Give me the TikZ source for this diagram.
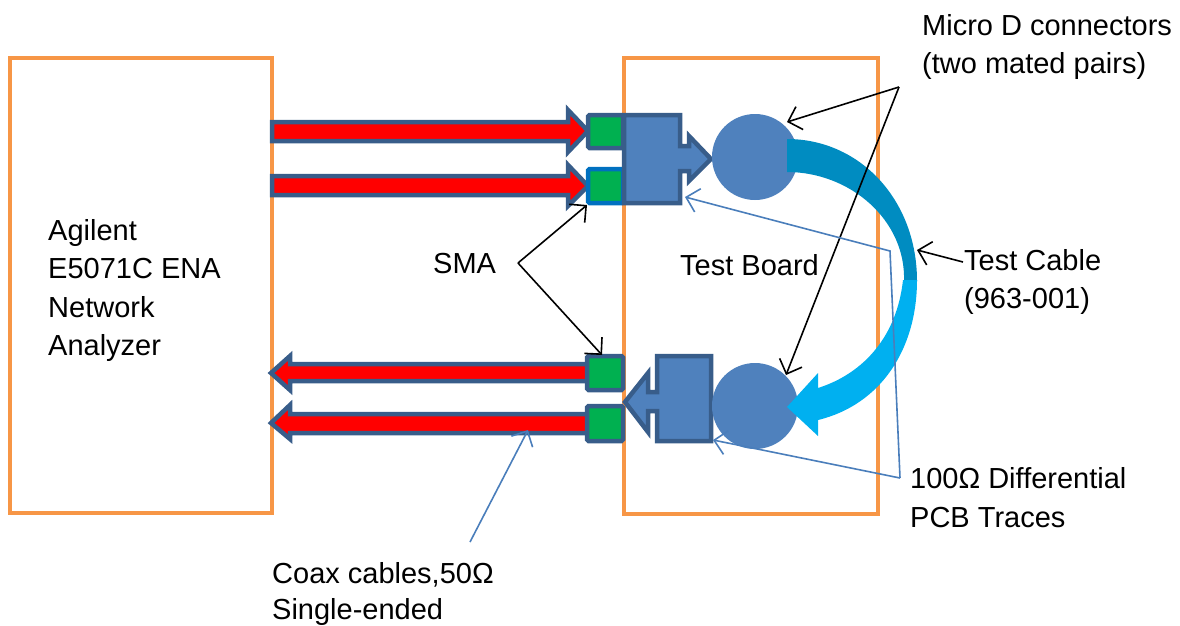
\documentclass[tikz,border=0pt]{standalone}
\usepackage{fontspec}
\setmainfont{Liberation Sans}
\usetikzlibrary{arrows.meta}
\definecolor{orng}{HTML}{F79646}
\definecolor{dblue}{HTML}{385D8A}
\definecolor{mblue}{HTML}{4F81BD}
\definecolor{bblue}{HTML}{0070C0}
\definecolor{lblue}{HTML}{4A7EBB}
\definecolor{grn}{HTML}{00B050}
\definecolor{cabdark}{HTML}{008CC1}
\definecolor{cablight}{HTML}{00B0F0}
\tikzset{
  box/.style={draw=orng, line width=4.5pt},
  coax/.style={fill=red, draw=dblue, line width=4.5pt, line join=miter},
  sma/.style={fill=grn, draw=dblue, line width=4.5pt, rounded corners=1.5pt},
  conn/.style={fill=mblue, draw=dblue, line width=4.5pt, line join=miter},
  plug/.style={fill=mblue, draw=none},
  callout/.style={draw=black, line width=1.6pt, -{Straight Barb[length=12pt,width=24pt,line width=1.6pt]}},
  bcallout/.style={draw=lblue, line width=1.6pt, -{Straight Barb[length=12pt,width=24pt,line width=1.6pt]}},
  lbl/.style={anchor=base west, inner sep=0pt, font=\fontsize{29}{35}\selectfont}
}
\begin{document}
\begin{tikzpicture}[x=1pt,y=-1pt]
\useasboundingbox (0,0) rectangle (1180,625);
% orange boxes
\draw[box] (10,58) rectangle (272,513);
\draw[box] (624,58) rectangle (878,514);
% red coax arrows (right)
\draw[coax] (272,122) -- (568,122) -- (568,110) -- (588,131) -- (568,152) -- (568,141) -- (272,141) -- cycle;
\draw[coax] (272,176) -- (568,176) -- (568,165) -- (588,186) -- (568,206) -- (568,195) -- (272,195) -- cycle;
% red coax arrows (left)
\draw[coax] (590,364) -- (290,364) -- (290,356) -- (271,373) -- (290,390) -- (290,381) -- (590,381) -- cycle;
\draw[coax] (590,414) -- (290,414) -- (290,405) -- (271,423) -- (290,439) -- (290,433) -- (590,433) -- cycle;
% SMA squares
\draw[sma] (588,115) rectangle (623,148);
\draw[sma, draw=bblue] (588,169) rectangle (623,203);
\draw[sma] (587,356) rectangle (623,390);
\draw[sma] (587,406) rectangle (623,441);
% connector shapes
\draw[conn] (624,115) -- (680,115) -- (680,146) -- (689,146) -- (689,136) -- (711,159) -- (689,181) -- (689,171) -- (680,171) -- (680,203) -- (624,203) -- cycle;
\draw[conn] (657,356) -- (711,356) -- (711,441) -- (657,441) -- (657,411) -- (648,411) -- (648,432) -- (625,402) -- (648,373) -- (648,392) -- (657,392) -- cycle;
% Micro D plugs
\fill[plug] (755,157) circle (43);
\fill[plug] (755,406) circle (43);
% test cable
\fill[cabdark] (787,139) .. controls (860,139) and (917,200) .. (917,281)
  -- (904,281) .. controls (906,220) and (850,172) .. (787,172) -- cycle;
\fill[cablight] (917,280) .. controls (917,350) and (880,405) .. (818,420)
  -- (818,436) -- (787,407) -- (818,373) -- (818,388)
  .. controls (865,373) and (897,335) .. (903,280) -- cycle;
% coordinates for callouts
\coordinate (microJ) at (899,87);
\coordinate (microT) at (787,122);
\coordinate (microB) at (786,375);
\coordinate (smaJ) at (518,263);
\coordinate (smaT) at (587,205);
\coordinate (smaB) at (602,355);
\coordinate (cabS) at (963,262);
\coordinate (cabE) at (917,250);
\coordinate (pcbJ) at (900,478);
\coordinate (pcbK) at (890,251);
\coordinate (pcbT) at (685,197);
\coordinate (pcbB) at (713,440);
\coordinate (coaxS) at (470,542);
\coordinate (coaxE) at (528,430);
% callouts
\draw[callout] (microJ) -- (microT);
\draw[callout] (microJ) -- (microB);
\draw[callout] (smaJ) -- (smaT);
\draw[callout] (smaJ) -- (smaB);
\draw[callout] (cabS) -- (cabE);
\draw[bcallout] (pcbJ) -- (pcbK) -- (pcbT);
\draw[bcallout] (pcbJ) -- (pcbB);
\draw[bcallout] (coaxS) -- (coaxE);
% labels
\node[lbl] (ag1) at (48,240) {Agilent};
\node[lbl] (ag2) at (48,278) {E5071C ENA};
\node[lbl] (ag3) at (48,317) {Network};
\node[lbl] (ag4) at (48,355) {Analyzer};
\node[lbl] (smal) at (433,273) {SMA};
\node[lbl] (tb) at (680,275) {Test Board};
\node[lbl] (md1) at (922,35) {Micro D connectors};
\node[lbl] (md2) at (922,73) {(two mated pairs)};
\node[lbl] (tc1) at (964,270) {Test Cable};
\node[lbl] (tc2) at (964,308) {(963-001)};
\node[lbl] (pc1) at (910,488) {100Ω Differential};
\node[lbl] (pc2) at (910,527) {PCB Traces};
\node[lbl] (cx1) at (272,583) {Coax cables,50Ω};
\node[lbl] (cx2) at (272,619) {Single-ended};
\end{tikzpicture}
\end{document}
